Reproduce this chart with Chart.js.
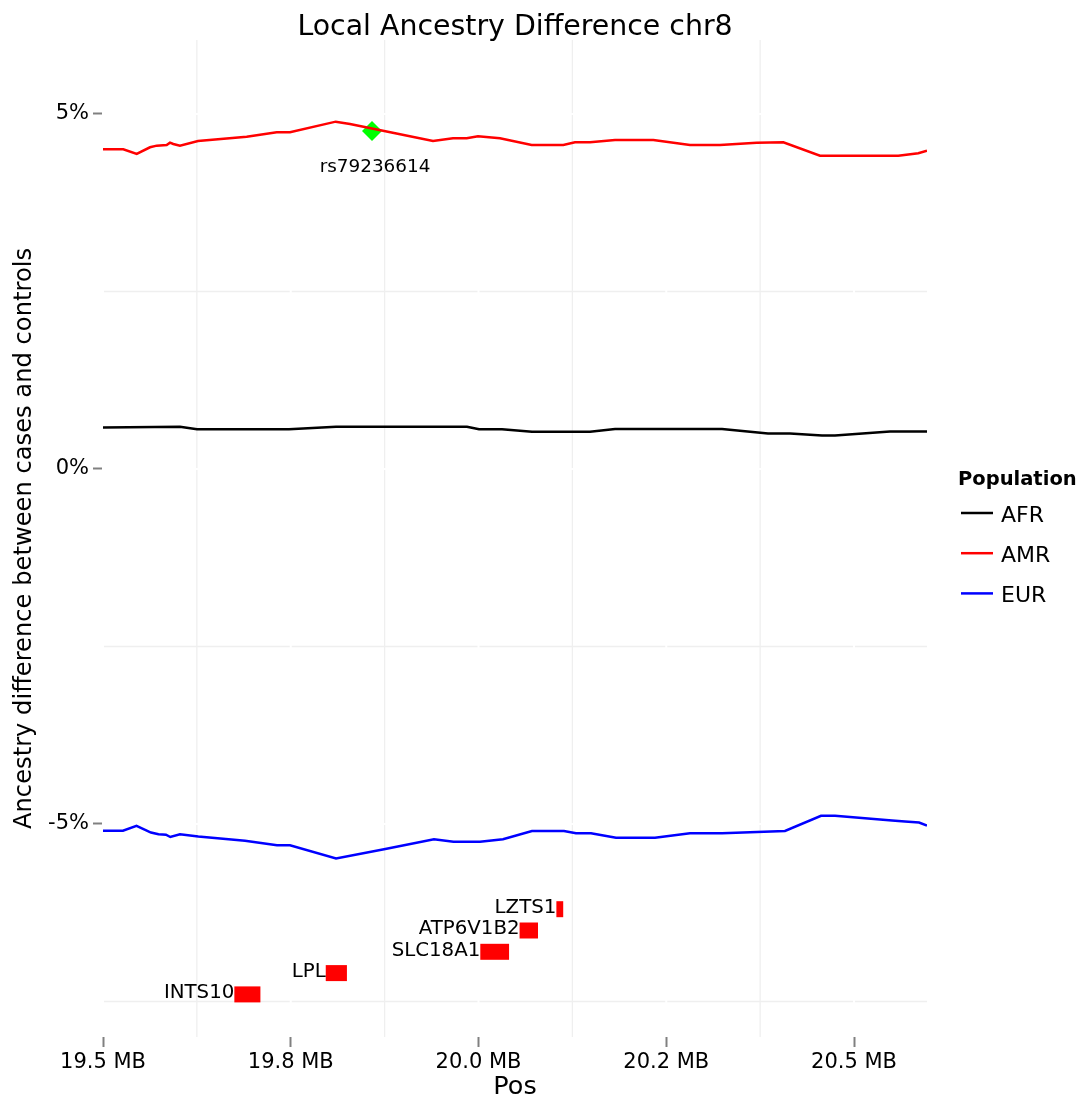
<!DOCTYPE html>
<html>
<head>
<meta charset="utf-8">
<script src="https://cdn.jsdelivr.net/npm/chart.js@4.4.1/dist/chart.umd.min.js"></script>
<style>
  html, body { margin: 0; padding: 0; background: #ffffff; }
  #wrap { width: 1081px; height: 1103px; }
</style>
</head>
<body>
<div id="wrap"><canvas id="c" width="1081" height="1103"></canvas></div>
<script>
const FONT = "'DejaVu Sans', 'Noto Sans', sans-serif";

// Local ancestry difference (cases - controls, %) along chr8, position in MB
const afrPos = [19.500, 19.6025, 19.6252, 19.7477, 19.8103, 19.9847, 20.0007, 20.0313, 20.0712,
                20.1485, 20.1818, 20.3243, 20.3855, 20.4148, 20.4574, 20.4747, 20.5479, 20.5972];
const afrVal = [0.585, 0.596, 0.561, 0.561, 0.596, 0.596, 0.561, 0.561, 0.525,
                0.525, 0.563, 0.563, 0.500, 0.500, 0.472, 0.472, 0.528, 0.528];

const amrPos = [19.500, 19.527, 19.5449, 19.5626, 19.5715, 19.5848, 19.5892, 19.5936, 19.6025,
                19.6265, 19.6913, 19.7313, 19.749, 19.8099, 19.8289, 19.8728, 19.9394, 19.966,
                19.9843, 19.9993, 20.0286, 20.0708, 20.1129, 20.1285, 20.1485, 20.1818, 20.2328,
                20.2816, 20.3216, 20.3704, 20.4059, 20.4547, 20.559, 20.5856, 20.5972];
const amrVal = [4.503, 4.503, 4.437, 4.531, 4.554, 4.563, 4.596, 4.577, 4.554,
                4.620, 4.680, 4.742, 4.742, 4.892, 4.859, 4.765, 4.620, 4.658,
                4.658, 4.686, 4.658, 4.563, 4.563, 4.601, 4.601, 4.634, 4.634,
                4.563, 4.563, 4.596, 4.601, 4.413, 4.413, 4.446, 4.483];

const eurPos = [19.500, 19.5266, 19.5446, 19.5639, 19.5739, 19.5839, 19.5896, 19.6025, 19.6269,
                19.6891, 19.7317, 19.749, 19.8103, 19.8742, 19.9407, 19.9667, 20.002, 20.0326,
                20.0712, 20.1138, 20.1298, 20.1498, 20.1831, 20.235, 20.2816, 20.3243, 20.4081,
                20.4561, 20.4747, 20.5506, 20.5679, 20.5866, 20.5972];
const eurVal = [-5.094, -5.094, -5.025, -5.120, -5.145, -5.151, -5.183, -5.145, -5.176,
                -5.237, -5.299, -5.300, -5.486, -5.356, -5.215, -5.249, -5.249, -5.214,
                -5.099, -5.099, -5.131, -5.131, -5.193, -5.193, -5.131, -5.131, -5.099,
                -4.885, -4.885, -4.951, -4.965, -4.979, -5.021];

// Genes in the window: start / end (MB) and the row they are stacked on (%)
const geneNames = ['INTS10', 'LPL', 'SLC18A1', 'ATP6V1B2', 'LZTS1'];
const geneStart = [19.6749, 19.7966, 20.0024, 20.0547, 20.1037];
const geneEnd   = [19.7096, 19.8248, 20.0407, 20.0792, 20.1128];
const geneRow   = [-7.4, -7.1, -6.8, -6.5, -6.2];

// Lead SNP
const snpName = 'rs79236614';
const snpPos = 19.8582;
const snpVal = 4.76;

// Axis ticks
const xTicks = [19.5, 19.75, 20.0, 20.25, 20.5];
const xTickLabels = ['19.5 MB', '19.8 MB', '20.0 MB', '20.2 MB', '20.5 MB'];
const xMinor = [19.625, 19.875, 20.125, 20.375];
const yTicks = [-5, 0, 5];
const yTickLabels = ['-5%', '0%', '5%'];
const yMinor = [-7.5, -2.5, 2.5];

const popNames = ['AFR', 'AMR', 'EUR'];
const popColors = ['#000000', '#ff0000', '#0000ff'];

const pts = (xs, ys) => xs.map((x, i) => ({ x: x, y: ys[i] }));

const popSeries = [[afrPos, afrVal], [amrPos, amrVal], [eurPos, eurVal]];
const datasets = popSeries.map((s, i) => ({
  label: popNames[i],
  data: pts(s[0], s[1]),
  borderColor: popColors[i],
  borderWidth: 2.5,
  pointRadius: 0,
  tension: 0,
  fill: false
}));

geneNames.forEach((g, i) => {
  datasets.push({
    label: g,
    data: [{ x: geneStart[i], y: geneRow[i] }, { x: geneEnd[i], y: geneRow[i] }],
    borderColor: '#ff0000',
    borderWidth: 16,
    borderCapStyle: 'butt',
    pointRadius: 0,
    fill: false
  });
});

datasets.push({
  label: snpName,
  data: [{ x: snpPos, y: snpVal }],
  showLine: false,
  pointStyle: 'rectRot',
  pointRadius: 10,
  pointBackgroundColor: '#00ff00',
  pointBorderColor: '#00ff00',
  pointBorderWidth: 0
});

// Light minor grid, with white major lines drawn across it
const gridPlugin = {
  id: 'gridPlugin',
  beforeDatasetsDraw(chart) {
    const { ctx, chartArea: a, scales: { x, y } } = chart;
    ctx.save();
    const vline = (v) => { const p = x.getPixelForValue(v); ctx.beginPath(); ctx.moveTo(p, a.top); ctx.lineTo(p, a.bottom); ctx.stroke(); };
    const hline = (v) => { const p = y.getPixelForValue(v); ctx.beginPath(); ctx.moveTo(a.left, p); ctx.lineTo(a.right, p); ctx.stroke(); };
    ctx.strokeStyle = '#efefef';
    ctx.lineWidth = 1.3;
    xMinor.forEach(vline);
    yMinor.forEach(hline);
    ctx.strokeStyle = '#ffffff';
    ctx.lineWidth = 2;
    xTicks.forEach(vline);
    yTicks.forEach(hline);
    ctx.restore();
  }
};

// Title, gene / SNP labels and the population legend
const labelPlugin = {
  id: 'labelPlugin',
  afterDatasetsDraw(chart) {
    const { ctx, chartArea: a, scales: { x, y } } = chart;
    ctx.save();
    ctx.fillStyle = '#000000';

    ctx.font = '28.4px ' + FONT;
    ctx.textAlign = 'center';
    ctx.textBaseline = 'alphabetic';
    ctx.fillText('Local Ancestry Difference chr8', (a.left + a.right) / 2, 34.5);

    ctx.font = '19.8px ' + FONT;
    ctx.textAlign = 'right';
    geneNames.forEach((g, i) => {
      ctx.fillText(g, x.getPixelForValue(geneStart[i]), y.getPixelForValue(geneRow[i]) + 4);
    });

    ctx.font = '18.4px ' + FONT;
    ctx.textAlign = 'center';
    ctx.fillText(snpName, x.getPixelForValue(snpPos) + 3, y.getPixelForValue(snpVal) + 41);

    const lx = a.right + 31;
    ctx.textAlign = 'left';
    ctx.font = 'bold 19.5px ' + FONT;
    ctx.fillText('Population', lx, 485);
    ctx.font = '22px ' + FONT;
    popNames.forEach((n, i) => {
      const ly = 513 + i * 40.2;
      ctx.strokeStyle = popColors[i];
      ctx.lineWidth = 2.5;
      ctx.beginPath();
      ctx.moveTo(lx + 3, ly);
      ctx.lineTo(lx + 35, ly);
      ctx.stroke();
      ctx.fillText(n, lx + 43, ly + 8.5);
    });
    ctx.restore();
  }
};

new Chart(document.getElementById('c'), {
  type: 'line',
  data: { datasets: datasets },
  options: {
    responsive: false,
    devicePixelRatio: 1,
    animation: false,
    events: [],
    layout: { padding: { top: 40, right: 154, left: 0, bottom: 0 } },
    plugins: {
      legend: { display: false },
      tooltip: { enabled: false },
      title: { display: false }
    },
    scales: {
      x: {
        type: 'linear',
        min: 19.5,
        max: 20.5972,
        afterFit(scale) { scale.height = 66; },
        afterBuildTicks(scale) { scale.ticks = xTicks.map(v => ({ value: v })); },
        ticks: {
          autoSkip: false,
          maxRotation: 0,
          padding: 3,
          color: '#000000',
          font: { family: FONT, size: 21 },
          callback: (v, i) => xTickLabels[i]
        },
        grid: { drawOnChartArea: false, drawTicks: true, tickLength: 10, tickColor: '#808080', tickWidth: 2 },
        border: { display: false },
        title: {
          display: true,
          text: 'Pos',
          color: '#000000',
          font: { family: FONT, size: 25.5 },
          padding: { top: 0, bottom: 0 }
        }
      },
      y: {
        type: 'linear',
        min: -8.0,
        max: 6.042,
        afterFit(scale) { scale.width = 103; },
        afterBuildTicks(scale) { scale.ticks = yTicks.map(v => ({ value: v })); },
        ticks: {
          autoSkip: false,
          padding: 4,
          color: '#000000',
          font: { family: FONT, size: 21 },
          callback: (v, i) => yTickLabels[i]
        },
        grid: { drawOnChartArea: false, drawTicks: true, tickLength: 10, tickColor: '#808080', tickWidth: 2 },
        border: { display: false },
        title: {
          display: true,
          text: 'Ancestry difference between cases and controls',
          color: '#000000',
          font: { family: FONT, size: 24.2 },
          padding: { top: 10.5, bottom: 0 }
        }
      }
    }
  },
  plugins: [gridPlugin, labelPlugin]
});
</script>
</body>
</html>
